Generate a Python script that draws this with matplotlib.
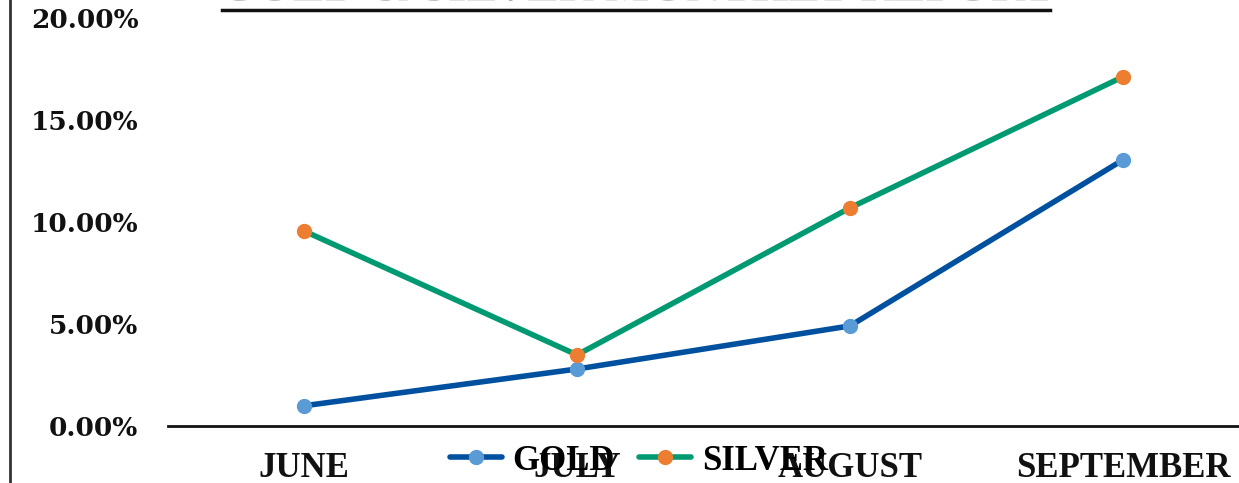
import matplotlib
matplotlib.use("Agg")
import matplotlib.pyplot as plt
from matplotlib.lines import Line2D
import matplotlib.patheffects as pe

months = ["JUNE", "JULY", "AUGUST", "SEPTEMBER"]
gold = [0.99, 2.79, 4.90, 13.03]
silver = [9.55, 3.48, 10.68, 17.10]
yticks = [0, 5, 10, 15, 20]
title = "GOLD & SILVER MONTHLY REPORT"

W, H = 1239, 483
fig = plt.figure(figsize=(W / 100, H / 100), dpi=100)
ax = fig.add_axes([167.5 / W, (H - 426) / H, (1259.5 - 167.5) / W, (426 - 17.5) / H])

x = list(range(len(months)))
ax.plot(x, gold, color="#0050A0", lw=4, marker="o", ms=10,
        mfc="#5B9BD5", mec="#5B9BD5", label="GOLD", solid_capstyle="round", zorder=3)
ax.plot(x, silver, color="#009A72", lw=4, marker="o", ms=10,
        mfc="#ED7D31", mec="#ED7D31", label="SILVER", solid_capstyle="round", zorder=3)

ax.set_xlim(-0.5, len(months) - 0.5)
ax.set_ylim(0, 20)
ax.set_yticks(yticks)
ax.set_yticklabels([f"{v:.2f}%" for v in yticks], fontfamily="DejaVu Serif",
                   fontweight="bold", fontsize=19, color="#111111")
ax.set_xticks(x)
ax.set_xticklabels(months, fontfamily="Liberation Serif", fontweight="bold",
                   fontsize=25, color="#111111")
ax.tick_params(axis="both", length=0)
ax.tick_params(axis="y", pad=21)
ax.tick_params(axis="x", pad=19)
for s in ["top", "right", "left"]:
    ax.spines[s].set_visible(False)
ax.spines["bottom"].set_linewidth(2)
ax.spines["bottom"].set_color("#111111")

leg = fig.legend(loc="center", bbox_to_anchor=(639 / W, (H - 461) / H), ncol=2,
                 frameon=False, handlelength=1.5, columnspacing=0.7,
                 handletextpad=0.3,
                 prop={"family": "Liberation Serif", "weight": "bold", "size": 25})

# left border line
fig.add_artist(Line2D([10 / W, 10 / W], [0, 1], color="#333333", lw=2))

# title (mostly cropped at the top)
fig.text(636 / W, 1 - 9 / H, title, ha="center", va="bottom",
         fontfamily="Liberation Serif", fontweight="bold", fontsize=34,
         color="#111111",
         path_effects=[pe.withSimplePatchShadow(offset=(1, -1), alpha=0.3)])
fig.add_artist(Line2D([222 / W, 1050 / W], [1 - 10 / H, 1 - 10 / H],
                      color="#111111", lw=2.5,
                      path_effects=[pe.withSimplePatchShadow(offset=(1, -2), alpha=0.3)]))

fig.savefig("out.png", dpi=100, facecolor="white")
